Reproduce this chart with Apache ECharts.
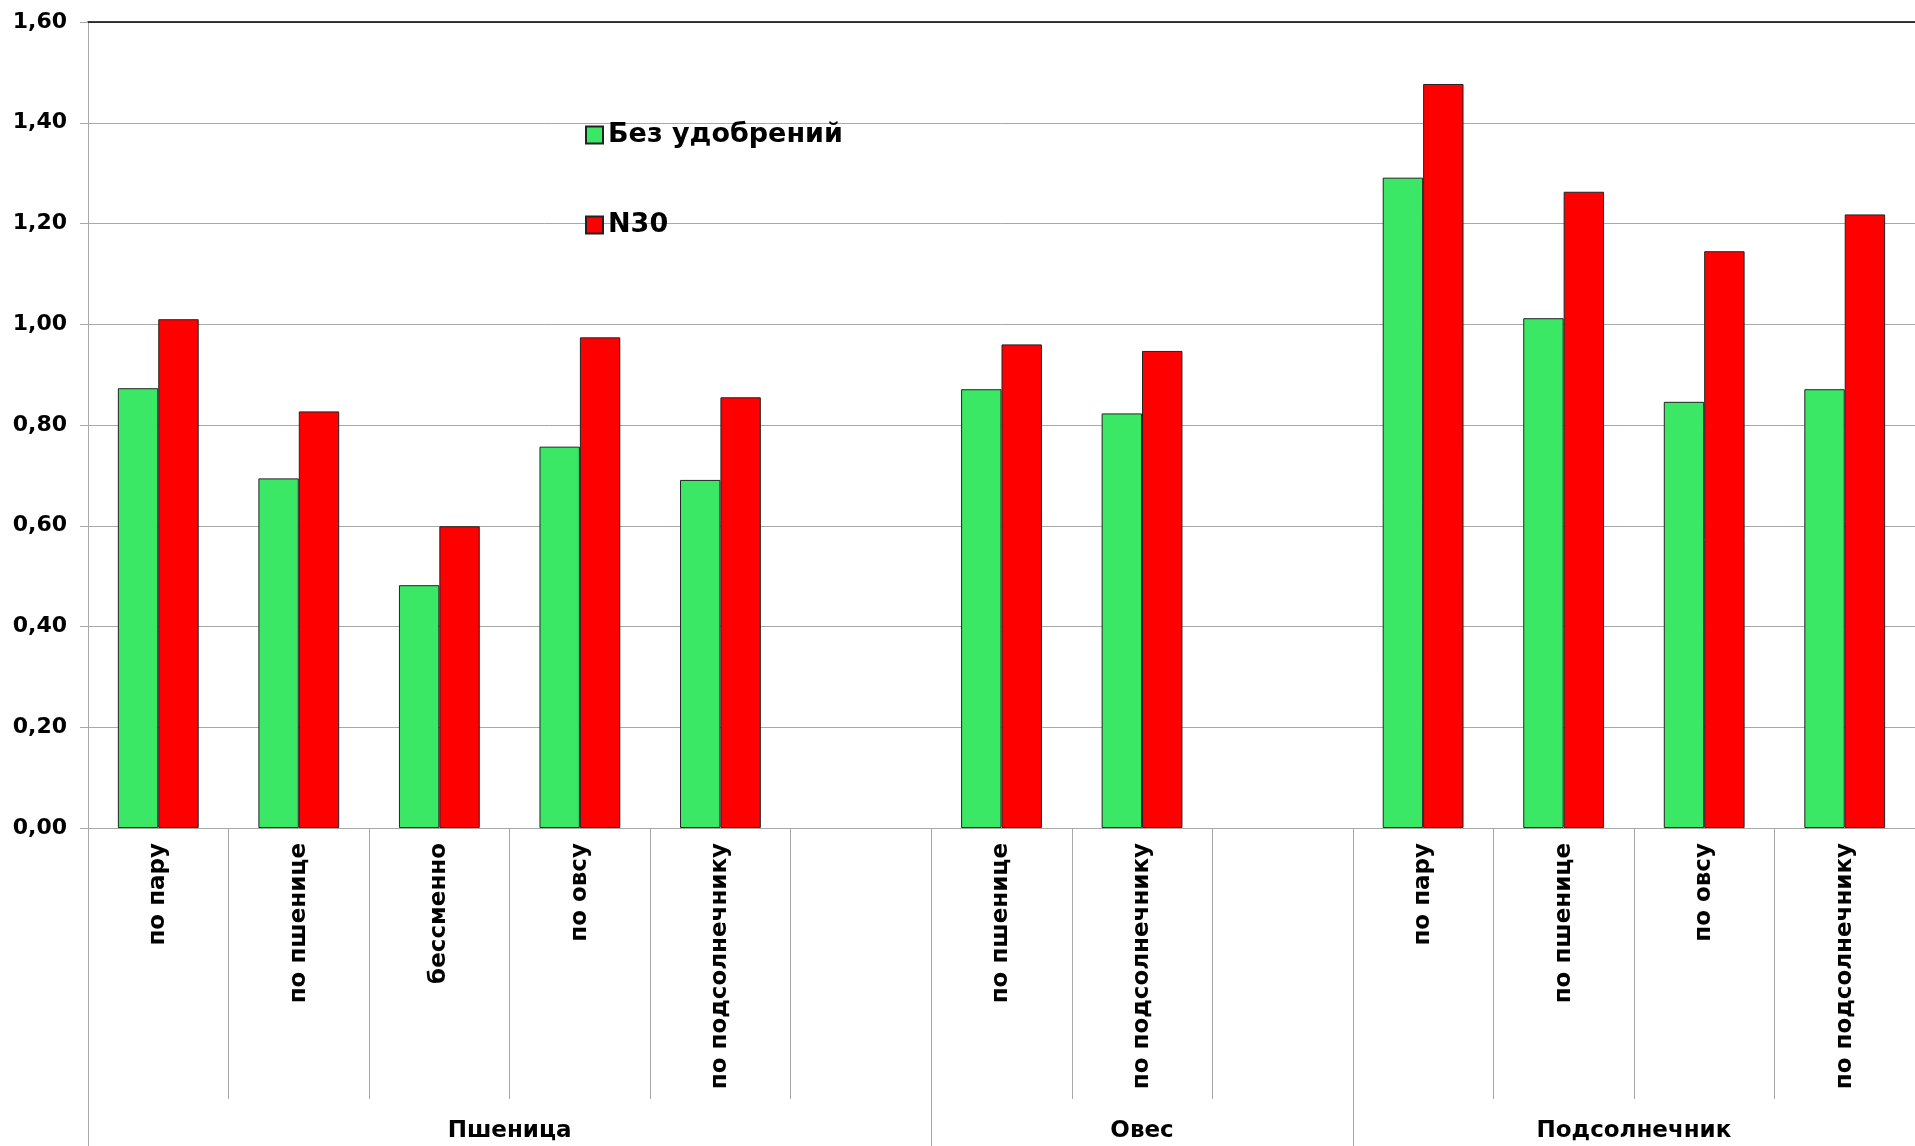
<!DOCTYPE html>
<html>
<head>
<meta charset="utf-8">
<script src="https://cdn.jsdelivr.net/npm/echarts@6/dist/echarts.min.js"></script>
<style>
html,body{margin:0;padding:0;background:#fff;}
#chart{width:1915px;height:1146px;}
</style>
</head>
<body>
<div id="chart"></div>
<script>
// ---- data ----
const categories = ['по пару','по пшенице','бессменно','по овсу','по подсолнечнику','',
                    'по пшенице','по подсолнечнику','',
                    'по пару','по пшенице','по овсу','по подсолнечнику'];
const groupNames = ['Пшеница','Овес','Подсолнечник'];
const groupSlots = [6, 3, 4];
const seriesNames = ['Без удобрений','N30'];
const noFertilizer = [0.873,0.694,0.482,0.757,0.691,null, 0.871,0.823,null, 1.291,1.012,0.846,0.871];
const n30 = [1.010,0.827,0.599,0.974,0.855,null, 0.960,0.947,null, 1.477,1.263,1.145,1.218];
const yTicks = [0,0.2,0.4,0.6,0.8,1.0,1.2,1.4,1.6];

// group boundaries and centers (in slot units)
const bounds = [0];
groupSlots.forEach(s => bounds.push(bounds[bounds.length-1] + s));
const centers = groupSlots.map((s,i) => bounds[i] + s/2);
const totalSlots = bounds[bounds.length-1];

const FONT = '"DejaVu Sans", "Liberation Sans", Arial, sans-serif';
const GRID_GRAY = '#a8a8a8';

const chart = echarts.init(document.getElementById('chart'), null, {renderer:'canvas'});
chart.setOption({
  animation: false,
  backgroundColor: '#ffffff',
  grid: {left: 88, top: 22, width: 1832, height: 806, containLabel: false},
  legend: {
    orient: 'vertical',
    left: 580, top: 115,
    itemWidth: 17, itemHeight: 17,
    itemGap: 60,
    icon: 'rect',
    data: seriesNames,
    textStyle: {fontFamily: FONT, fontWeight: 'bold', fontSize: 27, color: '#000', lineHeight: 30}
  },
  xAxis: [
    {
      type: 'category',
      data: categories,
      position: 'bottom',
      axisLine: {show: true, lineStyle: {color: GRID_GRAY, width: 1}},
      axisTick: {show: true, interval: 0, length: 271, lineStyle: {color: GRID_GRAY, width: 1}},
      axisLabel: {
        interval: 0, rotate: 90, margin: 15,
        fontFamily: FONT, fontWeight: 'bold', fontSize: 23, color: '#000'
      },
      splitLine: {show: false}
    },
    {
      type: 'value',
      min: 0, max: totalSlots,
      position: 'bottom',
      axisLine: {show: false},
      splitLine: {show: false},
      axisTick: {show: true, customValues: bounds, length: 318, lineStyle: {color: GRID_GRAY, width: 1}},
      axisLabel: {
        show: true, customValues: centers, margin: 292,
        formatter: function (v) {
          const i = centers.findIndex(c => Math.abs(c - v) < 1e-6);
          return i >= 0 ? groupNames[i] : '';
        },
        fontFamily: FONT, fontWeight: 'bold', fontSize: 23, color: '#000'
      }
    },
    {
      type: 'value',
      min: 0, max: 1,
      position: 'top',
      axisLine: {show: true, lineStyle: {color: '#000', width: 1.5}},
      axisTick: {show: false},
      axisLabel: {show: false},
      splitLine: {show: false}
    }
  ],
  yAxis: {
    type: 'value',
    min: yTicks[0], max: yTicks[yTicks.length-1], interval: yTicks[1]-yTicks[0],
    axisLine: {show: true, lineStyle: {color: GRID_GRAY, width: 1}},
    axisTick: {show: true, length: 8, lineStyle: {color: GRID_GRAY, width: 1}},
    axisLabel: {
      margin: 21,
      formatter: v => v.toFixed(2).replace('.', ','),
      fontFamily: FONT, fontWeight: 'bold', fontSize: 22, color: '#000'
    },
    splitLine: {show: true, lineStyle: {color: GRID_GRAY, width: 1}}
  },
  series: [
    {
      name: seriesNames[0], type: 'bar', xAxisIndex: 0,
      data: noFertilizer,
      barGap: '0%', barCategoryGap: '42.5%',
      itemStyle: {color: '#3be865', borderColor: '#222', borderWidth: 1}
    },
    {
      name: seriesNames[1], type: 'bar', xAxisIndex: 0,
      data: n30,
      barGap: '0%', barCategoryGap: '42.5%',
      itemStyle: {color: '#ff0000', borderColor: '#222', borderWidth: 1}
    }
  ]
});
</script>
</body>
</html>
